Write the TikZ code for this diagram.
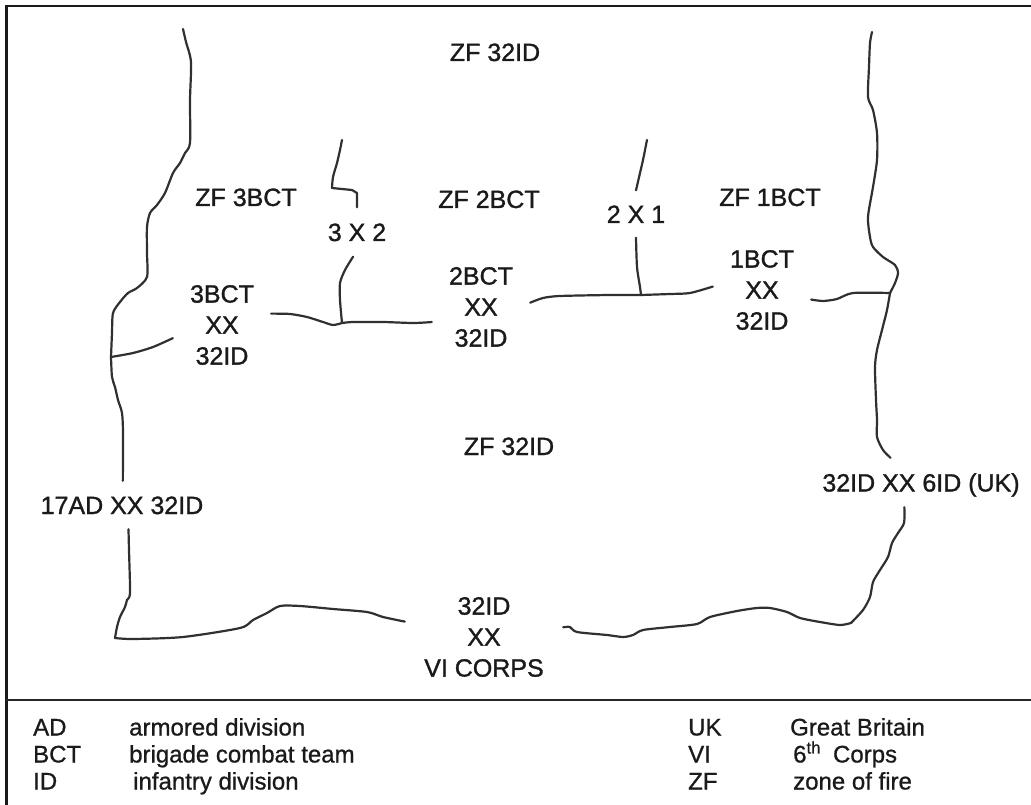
\documentclass[tikz,border=0pt]{standalone}
\usepackage{fontspec}
\setmainfont{Liberation Sans}
\newfontfamily\heavyfont[FakeBold=1.2]{Liberation Sans}
\newfontfamily\legfont[FakeBold=0.8]{Liberation Sans}
\definecolor{ink}{HTML}{1A1A1A}
\definecolor{pencol}{HTML}{303030}
\begin{document}
\begin{tikzpicture}[x=1pt,y=-1pt,
 pen/.style={draw=pencol, line width=2.2pt, line cap=round, line join=round},
 lbl/.style={inner sep=0pt, text height=18pt, text depth=0pt, text=ink, font=\heavyfont\fontsize{25}{31}\selectfont},
 blk/.style={inner sep=0pt, align=center, text=ink, font=\heavyfont\fontsize{25}{31}\selectfont, minimum width=98pt, minimum height=84pt},
 leg/.style={inner sep=0pt, anchor=base west, text=ink, font=\legfont\fontsize{24}{28}\selectfont}]
\useasboundingbox (0,0) rectangle (1031,805);
\fill[white] (0,0) rectangle (1031,805);
% frame
\draw[line width=2.4pt, black!90] (1031,6.3) -- (6.3,6.3) -- (6.3,805);
\draw[line width=2pt, black!85] (6.3,699.7) -- (1031,699.7);

% zone labels
\node[lbl] (zftop) at (495,52) {ZF 32ID};
\node[lbl] (zf3) at (246,197) {ZF 3BCT};
\node[lbl] (zf2) at (489,199) {ZF 2BCT};
\node[lbl] (zf1) at (770,197) {ZF 1BCT};
\node[lbl] (zfmid) at (509,446) {ZF 32ID};

% boundary labels
\node[lbl, minimum width=80pt, minimum height=49pt] (x32) at (357,232) {3 X 2};
\node[lbl, minimum width=80pt, minimum height=47pt] (x21) at (636,214) {2 X 1};
\node[blk] (b3) at (222,325) {3BCT\\XX\\32ID};
\node[blk] (b2) at (481,307) {2BCT\\XX\\32ID};
\node[blk] (b1) at (762,290) {1BCT\\XX\\32ID};
\node[lbl, minimum width=180pt, minimum height=48pt] (ad17) at (122,505) {17AD XX 32ID};
\node[lbl, minimum width=210pt, minimum height=49pt] (id6) at (921,482.5) {32ID XX 6ID (UK)};
\node[blk, minimum width=158pt] (vi) at (484,637) {32ID\\XX\\VI CORPS};

% junctions and free ends
\coordinate (ltop) at (183,29);
\coordinate (jl) at (111,357);
\coordinate (j32) at (342,323);
\coordinate (x32top) at (342,140);
\coordinate (j21) at (641,295);
\coordinate (x21top) at (647,140);
\coordinate (rtop) at (872,32);
\coordinate (jr) at (890,293);
\coordinate (lcorner) at (115,638);
\coordinate (rcorner) at (851,623);

% left boundary
\draw[pen] plot[smooth, tension=0.45] coordinates {(ltop) (186,42) (191,62) (190,100) (190,143) (185,153) (180,163) (173,173) (165,193) (157,205) (150,213) (147,227) (147,253) (147,277) (137,288) (128,293) (120,302) (113,313) (112,333) (jl)};
\draw[pen] plot[smooth, tension=0.45] coordinates {(jl) (112,377) (115,387) (118,400) (122,413) (123,433) (ad17.88)};
\draw[pen] plot[smooth, tension=0.45] coordinates {(jl) (133,353) (153,347) (b3.195)};
\draw[pen] plot[smooth, tension=0.45] coordinates {(ad17.-75) (129,550) (130,593) (127,600) (125,607) (120,617) (117,627) (lcorner)};
\draw[pen] plot[smooth, tension=0.45] coordinates {(lcorner) (133,639) (183,637) (240,628) (253,620) (267,613) (280,606) (300,606) (333,609) (367,612) (383,617) (vi.169.2)};

% 3BCT -- 2BCT and 3 X 2
\draw[pen] plot[smooth, tension=0.45] coordinates {(b3.13.8) (290,314) (307,317) (323,322) (333,325) (j32)};
\draw[pen] plot[smooth, tension=0.45] coordinates {(j32) (353,322) (383,322) (413,323) (b2.197)};
\draw[pen] plot[smooth, tension=0.45] coordinates {(j32) (340,300) (340,283) (345,270) (x32.-99)};
\draw[pen] plot[tension=0.45] coordinates {(x32.north) (357,193) (352,190) (332,188)};
\draw[pen] plot[smooth, tension=0.45] coordinates {(332,188) (333,177) (337,163) (340,150) (x32top)};

% 2BCT -- 1BCT and 2 X 1
\draw[pen] plot[smooth, tension=0.45] coordinates {(b2.5.8) (543,298) (560,296) (610,295) (j21)};
\draw[pen] plot[smooth, tension=0.45] coordinates {(j21) (670,294) (690,293) (b1.176.5)};
\draw[pen] plot[smooth, tension=0.45] coordinates {(j21) (640,287) (637,267) (x21.south)};
\draw[pen] plot[smooth, tension=0.45] coordinates {(x21.north) (640,173) (643,160) (x21top)};

% right boundary
\draw[pen] plot[smooth, tension=0.45] coordinates {(b1.-11.5) (823,301) (837,299) (853,293) (jr)};
\draw[pen] plot[smooth, tension=0.45] coordinates {(rtop) (870,43) (869,67) (868,97) (873,110) (877,133) (877,160) (873,187) (868,217) (870,237) (873,247) (883,257) (895,265) (898,273) (895,283) (jr)};
\draw[pen] plot[smooth, tension=0.45] coordinates {(jr) (887,310) (882,330) (877,350) (875,367) (876,400) (877,420) (877,437) (883,450) (id6.141.7)};
\draw[pen] plot[smooth, tension=0.45] coordinates {(id6.236.8) (904,523) (898,533) (892,543) (888,557) (880,570) (873,582) (870,597) (863,610) (rcorner)};
\draw[pen] plot[smooth, tension=0.45] coordinates {(rcorner) (840,625) (820,622) (800,618) (787,612) (770,608) (757,608) (737,611) (710,617) (697,624) (670,627) (643,630) (633,635) (623,637) (607,635) (577,632) (570,627) (vi.7.9)};

% legend
\node[leg] (lad) at (33,735.5) {AD};
\node[leg] (lbct) at (33,762.5) {BCT};
\node[leg] (lid) at (33,789.5) {ID};
\node[leg] (lade) at (129,735.5) {armored division};
\node[leg] (lbcte) at (129,762.5) {brigade combat team};
\node[leg] (lide) at (133,789.5) {infantry division};
\node[leg] (luk) at (688,735.5) {UK};
\node[leg] (lvi) at (688,762.5) {VI};
\node[leg] (lzf) at (688,789.5) {ZF};
\node[leg] (luke) at (790,735.5) {Great Britain};
\node[leg] (lvie) at (793,762.5) {6\textsuperscript{th}\hspace{0.5em}Corps};
\node[leg] (lzfe) at (793,789.5) {zone of fire};
\end{tikzpicture}
\end{document}
